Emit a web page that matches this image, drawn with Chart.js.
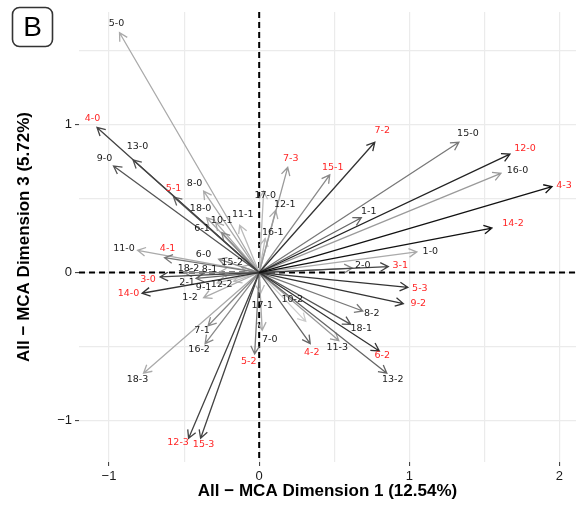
<!DOCTYPE html>
<html>
<head>
<meta charset="utf-8">
<script src="https://cdn.jsdelivr.net/npm/chart.js@4.4.1/dist/chart.umd.min.js"></script>
<style>
  html, body { margin: 0; padding: 0; background: #fff; }
  #wrap { width: 576px; height: 507px; }
</style>
</head>
<body>
<div id="wrap"><canvas id="mca" width="576" height="507"></canvas></div>
<script>
// variable-level categories
var levels = ["5-0","4-0","13-0","9-0","5-1","8-0","18-0","10-1","11-1","6-1",
  "17-0","12-1","16-1","7-3","15-1","7-2","15-0","12-0","16-0","4-3",
  "14-2","1-0","1-1","2-0","3-1","5-3","9-2","8-2","18-1","6-2",
  "13-2","11-3","4-2","10-2","17-1","7-0","5-2","12-3","15-3","18-3",
  "16-2","7-1","1-2","9-1","12-2","2-1","3-0","14-0","18-2","8-1",
  "6-0","15-2","11-0","4-1"];
// coordinates (arrow tips)
var dim1 = [-0.93,-1.08,-0.84,-0.97,-0.57,-0.37,-0.35,-0.29,-0.13,-0.25,
  0.03,0.11,0.04,0.19,0.47,0.77,1.33,1.67,1.61,1.95,
  1.55,1.05,0.68,0.62,0.86,0.99,0.96,0.69,0.61,0.80,
  0.85,0.53,0.34,0.31,0.01,0.02,-0.03,-0.47,-0.39,-0.77,
  -0.36,-0.34,-0.37,-0.28,-0.17,-0.42,-0.66,-0.78,-0.50,-0.27,
  -0.27,-0.12,-0.81,-0.63];
var dim3 = [1.62,0.98,0.76,0.72,0.51,0.55,0.37,0.34,0.32,0.27,
  0.55,0.42,0.23,0.71,0.66,0.88,0.88,0.80,0.67,0.58,
  0.30,0.14,0.37,0.03,0.04,-0.10,-0.21,-0.26,-0.35,-0.53,
  -0.68,-0.46,-0.48,-0.33,-0.14,-0.39,-0.55,-1.12,-1.12,-0.68,
  -0.48,-0.36,-0.17,-0.07,-0.06,-0.04,-0.03,-0.14,0.00,0.00,
  0.09,0.04,0.15,0.10];
// label anchor coordinates
var labelDim1 = [-0.95,-1.11,-0.81,-1.03,-0.57,-0.43,-0.39,-0.25,-0.11,-0.38,
  0.04,0.17,0.09,0.21,0.49,0.82,1.39,1.77,1.72,2.03,
  1.69,1.14,0.73,0.69,0.94,1.07,1.06,0.75,0.68,0.82,
  0.89,0.52,0.35,0.22,0.02,0.07,-0.07,-0.54,-0.37,-0.81,
  -0.40,-0.38,-0.46,-0.37,-0.25,-0.48,-0.74,-0.87,-0.47,-0.33,
  -0.37,-0.18,-0.90,-0.61];
var labelDim3 = [1.68,1.04,0.85,0.77,0.57,0.60,0.43,0.35,0.39,0.30,
  0.52,0.46,0.27,0.77,0.71,0.96,0.94,0.84,0.69,0.59,
  0.33,0.14,0.41,0.05,0.05,-0.11,-0.21,-0.28,-0.38,-0.56,
  -0.72,-0.51,-0.54,-0.18,-0.22,-0.45,-0.60,-1.15,-1.16,-0.72,
  -0.52,-0.39,-0.17,-0.10,-0.08,-0.07,-0.05,-0.14,0.03,0.02,
  0.12,0.07,0.16,0.16];
// contribution shading (0 light .. 1 dark)
var contrib = [0.18,0.73,0.64,0.64,0.55,0.18,0.18,0.18,0.09,0.36,
  0.09,0.18,0.09,0.27,0.36,0.82,0.45,0.91,0.27,1.0,
  1.0,0.18,0.55,0.36,0.73,0.82,0.82,0.45,0.64,0.82,
  0.55,0.27,0.55,0.0,0.09,0.18,0.45,0.73,0.73,0.18,
  0.36,0.36,0.18,0.09,0.09,0.55,0.73,0.82,0.36,0.18,
  0.36,0.18,0.18,0.45];
var highlighted = ["4-0","5-1","7-3","15-1","7-2","12-0","4-3","14-2","3-1","5-3",
  "9-2","6-2","4-2","5-2","12-3","15-3","3-0","14-0","4-1"];
var xGrid = [-1, -0.5, 0, 0.5, 1, 1.5, 2];
var yGrid = [-1, -0.5, 0, 0.5, 1, 1.5];

function grayFor(c) {
  var g = Math.round(204 - 187 * c);
  return "rgb(" + g + "," + g + "," + g + ")";
}
function fmt(v) {
  if (v % 1 !== 0) return "";
  return v < 0 ? "\u2212" + Math.abs(v) : String(v);
}

var points = [];
for (var i = 0; i < levels.length; i++) {
  points.push({ x: dim1[i], y: dim3[i] });
}

var arrowPlugin = {
  id: "arrows",
  beforeDatasetsDraw: function (chart) {
    var ctx = chart.ctx, xs = chart.scales.x, ys = chart.scales.y, area = chart.chartArea;
    var x0 = xs.getPixelForValue(0), y0 = ys.getPixelForValue(0);
    ctx.save();
    ctx.setLineDash([6, 4]);
    ctx.lineWidth = 2;
    ctx.strokeStyle = "#000";
    ctx.beginPath();
    ctx.moveTo(x0, area.top); ctx.lineTo(x0, area.bottom);
    ctx.moveTo(area.left, y0); ctx.lineTo(area.right, y0);
    ctx.stroke();
    ctx.setLineDash([]);

    var order = levels.map(function (l, k) { return k; });
    order.sort(function (a, b) { return contrib[a] - contrib[b]; });
    ctx.lineWidth = 1.3;
    order.forEach(function (k) {
      var x1 = xs.getPixelForValue(dim1[k]), y1 = ys.getPixelForValue(dim3[k]);
      var ang = Math.atan2(y1 - y0, x1 - x0), hl = 9, ha = 0.5;
      ctx.strokeStyle = grayFor(contrib[k]);
      ctx.beginPath();
      ctx.moveTo(x0, y0); ctx.lineTo(x1, y1);
      ctx.moveTo(x1 - hl * Math.cos(ang - ha), y1 - hl * Math.sin(ang - ha));
      ctx.lineTo(x1, y1);
      ctx.lineTo(x1 - hl * Math.cos(ang + ha), y1 - hl * Math.sin(ang + ha));
      ctx.stroke();
    });

    ctx.font = '9.5px "DejaVu Sans"';
    ctx.textAlign = "center";
    ctx.textBaseline = "middle";
    for (var k = 0; k < levels.length; k++) {
      ctx.fillStyle = highlighted.indexOf(levels[k]) >= 0 ? "#ff2626" : "#1a1a1a";
      ctx.fillText(levels[k], xs.getPixelForValue(labelDim1[k]), ys.getPixelForValue(labelDim3[k]));
    }
    ctx.restore();
  },
  afterDraw: function (chart) {
    var ctx = chart.ctx;
    ctx.save();
    ctx.lineWidth = 1.6;
    ctx.strokeStyle = "#333";
    ctx.beginPath();
    ctx.roundRect(12.5, 7.5, 40, 39, 7);
    ctx.stroke();
    ctx.fillStyle = "#000";
    ctx.font = '28px "Liberation Sans"';
    ctx.textAlign = "center";
    ctx.textBaseline = "middle";
    ctx.fillText("B", 32.5, 28);
    ctx.restore();
  }
};

function gridColor(c) {
  return c.tick ? "#ebebeb" : "transparent";
}
function tickMarkColor(c) {
  return c.tick && c.tick.value % 1 === 0 ? "#333" : "transparent";
}

new Chart(document.getElementById("mca").getContext("2d"), {
  type: "scatter",
  data: {
    datasets: [{ label: "levels", data: points, pointRadius: 0, pointHoverRadius: 0 }]
  },
  options: {
    responsive: false,
    animation: false,
    devicePixelRatio: 1,
    layout: { padding: { top: 12, right: 0, left: 0, bottom: 0 } },
    plugins: { legend: { display: false }, tooltip: { enabled: false } },
    scales: {
      x: {
        type: "linear",
        min: -1.2,
        max: 2.11,
        afterBuildTicks: function (s) { s.ticks = xGrid.map(function (v) { return { value: v }; }); },
        afterFit: function (s) { s.height = 45; },
        border: { display: false },
        grid: { color: gridColor, lineWidth: 1.2, drawTicks: true, tickLength: 4, tickColor: tickMarkColor, tickWidth: 1 },
        ticks: {
          autoSkip: false, maxRotation: 0, padding: 3, color: "#1a1a1a",
          font: { family: "Liberation Sans", size: 13 },
          callback: function (v) { return fmt(v); }
        },
        title: {
          display: true, text: "All \u2212 MCA Dimension 1 (12.54%)", color: "#000",
          font: { family: "Liberation Sans", size: 17, weight: "bold" },
          padding: { top: 0, bottom: 5 }
        }
      },
      y: {
        type: "linear",
        min: -1.28,
        max: 1.76,
        afterBuildTicks: function (s) { s.ticks = yGrid.map(function (v) { return { value: v }; }); },
        afterFit: function (s) { s.width = 79; },
        border: { display: false },
        grid: { color: gridColor, lineWidth: 1.2, drawTicks: true, tickLength: 4, tickColor: tickMarkColor, tickWidth: 1 },
        ticks: {
          autoSkip: false, padding: 3, color: "#1a1a1a",
          font: { family: "Liberation Sans", size: 13 },
          callback: function (v) { return fmt(v); }
        },
        title: {
          display: true, text: "All \u2212 MCA Dimension 3 (5.72%)", color: "#000",
          font: { family: "Liberation Sans", size: 17, weight: "bold" },
          padding: { top: 14, bottom: 0 }
        }
      }
    }
  },
  plugins: [arrowPlugin]
});
</script>
</body>
</html>
